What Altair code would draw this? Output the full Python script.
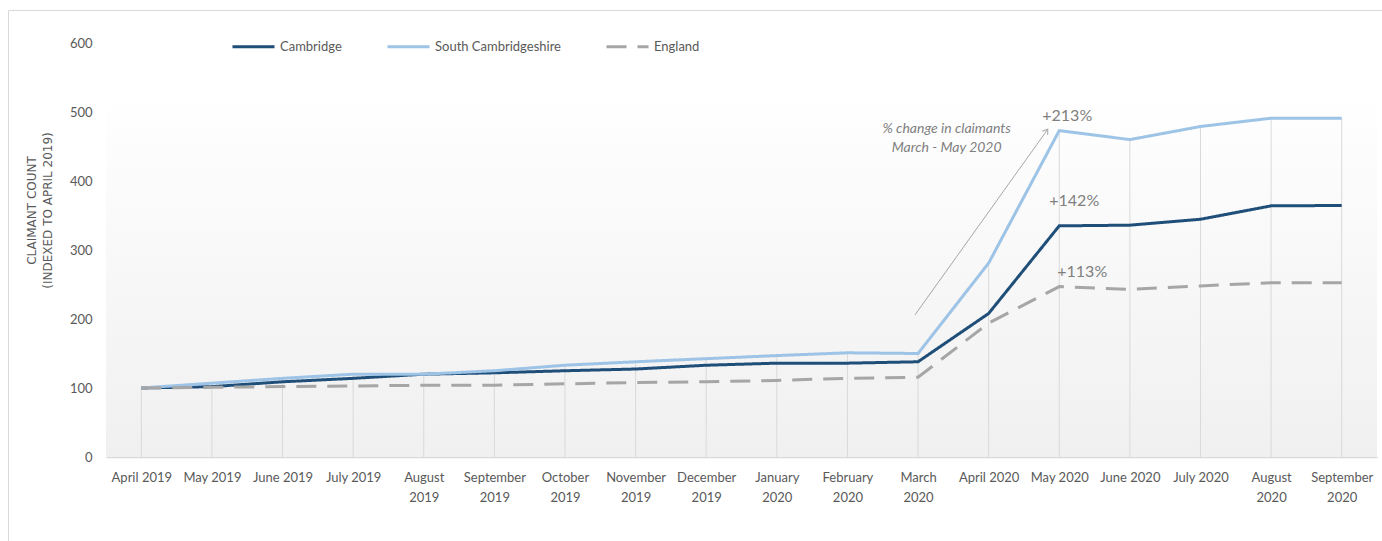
import altair as alt
import pandas as pd

months = ["April 2019", "May 2019", "June 2019", "July 2019", "August 2019",
          "September 2019", "October 2019", "November 2019", "December 2019",
          "January 2020", "February 2020", "March 2020", "April 2020", "May 2020",
          "June 2020", "July 2020", "August 2020", "September 2020"]
single_line = ["April 2019", "May 2019", "June 2019", "July 2019",
               "April 2020", "May 2020", "June 2020", "July 2020"]

series_names = ["Cambridge", "South Cambridgeshire", "England"]
series_colors = ["#1f4e79", "#9dc3e6", "#a6a6a6"]
series_dashes = [[1, 0], [1, 0], [20, 11]]

cambridge = [100, 102, 109, 114, 120, 122, 125, 127.5, 133, 136, 136, 138,
             208, 335, 336, 344.5, 364, 364.5]
south_cambs = [100, 107, 114, 120, 120, 125, 133, 138, 142.5, 147, 151, 150,
               281, 473, 460, 479, 491, 491]
england = [100, 101, 102, 103, 104, 104, 106, 108, 109, 111, 114, 115.5,
           194, 247, 243, 248, 252.5, 252.5]

pct_labels = ["+213%", "+142%", "+113%"]
pct_label_y = [494, 371, 268]
pct_label_dx = [8, 15, 23]

note_text = ["% change in claimants", "March - May 2020"]

FONT = "Lato"
GREY_TXT = "#595959"
ANNO = "#7f7f7f"

rows = []
for name, vals in zip(series_names, [cambridge, south_cambs, england]):
    for m, v in zip(months, vals):
        rows.append({"month": m, "value": v, "series": name})
df = pd.DataFrame(rows)

drop = pd.DataFrame({"month": months,
                     "top": [max(a, b, c) for a, b, c in zip(cambridge, south_cambs, england)],
                     "base": [0] * len(months)})

W, H = 1271, 414

xscale = alt.Scale(domain=months, type="point", padding=0.5)

label_list = "[" + ",".join("'" + s + "'" for s in single_line) + "]"

x_enc = alt.X("month:O", sort=months, scale=xscale, title=None,
              axis=alt.Axis(labelAngle=0, labelAlign="center", labelBaseline="top",
                            labelFont=FONT, labelFontSize=13,
                            labelColor=GREY_TXT, labelPadding=14, labelLineHeight=20,
                            ticks=False, domainColor="#d9d9d9", domainWidth=1.5,
                            grid=False,
                            labelExpr="indexof(" + label_list + ", datum.value) >= 0 ? datum.value : split(datum.value, ' ')"))

yscale = alt.Scale(domain=[0, 600], nice=False)

bg = alt.Chart(pd.DataFrame({"a": [0]})).mark_rect(
    color=alt.LinearGradient(gradient="linear",
                             stops=[alt.GradientStop(color="#ffffff", offset=0),
                                    alt.GradientStop(color="#f0f0f0", offset=1)],
                             x1=0, x2=0, y1=0, y2=1)
).encode(x=alt.value(0), x2=alt.value(W), y=alt.value(47), y2=alt.value(H))

border = alt.Chart(pd.DataFrame({"a": [0]})).mark_rect(
    fill=None, stroke="#d9d9d9", strokeWidth=1
).encode(x=alt.value(-97.5), x2=alt.value(1290), y=alt.value(-32.5), y2=alt.value(520))

drops = alt.Chart(drop).mark_rule(color="#d9d9d9", strokeWidth=1).encode(
    x=alt.X("month:O", sort=months, scale=xscale),
    y=alt.Y("top:Q", scale=yscale),
    y2="base:Q",
)

leg = alt.Legend(title=None, orient="none", direction="horizontal", legendX=125, legendY=-19)

lines = alt.Chart(df).mark_line(strokeWidth=3).encode(
    x=x_enc,
    y=alt.Y("value:Q", scale=yscale, title=["CLAIMANT COUNT", "(INDEXED TO APRIL 2019)"],
            axis=alt.Axis(values=[0, 100, 200, 300, 400, 500, 600], grid=False,
                          domain=False, ticks=False, labelFont=FONT, labelFontSize=13,
                          labelColor=GREY_TXT, labelPadding=14,
                          titleFont="DejaVu Sans", titleFontSize=12, titleColor=GREY_TXT,
                          titleFontWeight="normal", titleX=-68, titleY=167,
                          titleLineHeight=16)),
    color=alt.Color("series:N", scale=alt.Scale(domain=series_names, range=series_colors),
                    legend=leg),
    strokeDash=alt.StrokeDash("series:N", scale=alt.Scale(domain=series_names, range=series_dashes),
                              legend=leg),
    detail="series:N",
)

# annotation arrow
arrow_df = pd.DataFrame({"month": ["March 2020"], "month2": ["May 2020"],
                         "y1": [206], "y2": [475]})
arrow = alt.Chart(arrow_df).mark_rule(color="#a6a6a6", strokeWidth=1, xOffset=-3, x2Offset=-11.5).encode(
    x=alt.X("month:O", sort=months, scale=xscale),
    x2="month2:O",
    y=alt.Y("y1:Q", scale=yscale),
    y2="y2:Q",
)
head = alt.Chart(pd.DataFrame({"month": ["May 2020"], "y": [475]})).mark_point(
    shape="M -0.7 1 L 0 0 L 0.7 1", size=90, filled=False, stroke="#a6a6a6",
    strokeWidth=1, angle=35.6, xOffset=-11.5, opacity=1
).encode(
    x=alt.X("month:O", sort=months, scale=xscale),
    y=alt.Y("y:Q", scale=yscale),
)

note = alt.Chart(pd.DataFrame({"month": ["April 2020"], "y": [475], "t": [note_text]})).mark_text(
    font=FONT, fontSize=14, fontStyle="italic", color=ANNO, align="center",
    baseline="middle", dx=-42, lineHeight=19
).encode(
    x=alt.X("month:O", sort=months, scale=xscale),
    y=alt.Y("y:Q", scale=yscale),
    text="t",
)

pct_layers = []
for lab, yv, dx in zip(pct_labels, pct_label_y, pct_label_dx):
    pct_layers.append(
        alt.Chart(pd.DataFrame({"month": ["May 2020"], "y": [yv], "t": [lab]})).mark_text(
            font=FONT, fontSize=16, color=ANNO, align="center", baseline="middle", dx=dx
        ).encode(
            x=alt.X("month:O", sort=months, scale=xscale),
            y=alt.Y("y:Q", scale=yscale),
            text="t:N",
        )
    )

chart = alt.layer(bg, border, drops, lines, arrow, head, note, *pct_layers).properties(
    width=W, height=H,
    autosize=alt.AutoSizeParams(type="none"),
    padding={"left": 106, "top": 43, "right": 5, "bottom": 84},
    background="white",
).configure_view(stroke=None).configure_legend(
    padding=0, symbolType="stroke", symbolSize=1764, symbolStrokeWidth=3,
    labelFont=FONT, labelFontSize=13, labelColor=GREY_TXT, labelOffset=4,
    columnPadding=39,
)

chart.save("out.html", embed_options={"renderer": "svg", "actions": False})
